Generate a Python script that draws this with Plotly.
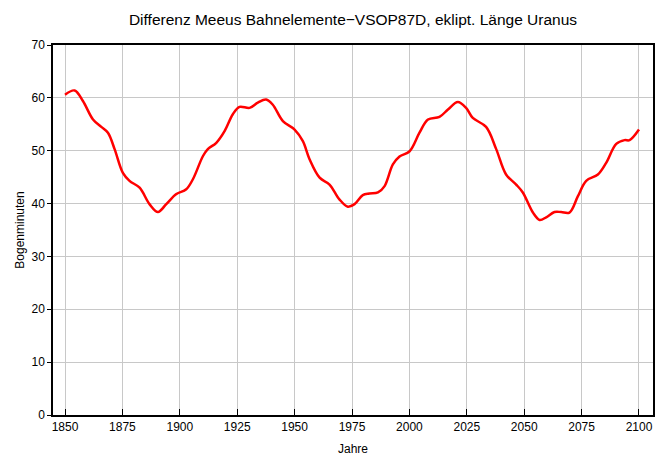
import plotly.graph_objects as go

years = [1850, 1854.2, 1857.8, 1862.2, 1865.8, 1868.7, 1871.6, 1875.2, 1878.1, 1882.5,
         1886.8, 1890.5, 1894.1, 1898.5, 1902.8, 1905.7, 1910.1, 1912.2, 1915.9, 1919.5,
         1923.1, 1926.0, 1930.4, 1934.0, 1937.6, 1940.5, 1944.9, 1950.0, 1953.6, 1956.5,
         1960.9, 1965.2, 1969.5, 1973.2, 1976.1, 1979.7, 1982.6, 1986.3, 1989.2, 1992.8,
         1995.7, 2000.1, 2004.4, 2008.1, 2013.1, 2016.8, 2021.1, 2024.7, 2027.6, 2033.4,
         2037.8, 2042.1, 2046.5, 2049.4, 2053.8, 2056.7, 2059.6, 2063.2, 2066.1, 2069.7,
         2073.4, 2077.0, 2082.1, 2085.7, 2090.1, 2093.7, 2095.9, 2100.0]
bogenminuten = [60.6, 61.4, 59.4, 55.9, 54.5, 53.4, 50.3, 45.8, 44.3, 43.0,
                39.9, 38.4, 39.9, 41.8, 42.7, 44.6, 49.0, 50.3, 51.5, 53.7,
                56.9, 58.3, 58.1, 59.1, 59.7, 58.7, 55.6, 54.0, 51.8, 48.4,
                44.9, 43.6, 40.8, 39.4, 39.9, 41.6, 41.9, 42.1, 43.3, 47.4,
                48.9, 49.9, 53.4, 55.9, 56.4, 57.8, 59.2, 58.1, 56.2, 54.5,
                50.3, 45.5, 43.6, 42.1, 38.3, 36.9, 37.4, 38.4, 38.4, 38.3,
                41.4, 44.3, 45.5, 47.7, 51.3, 52.0, 52.0, 54.0]

x_ticks = [1850, 1875, 1900, 1925, 1950, 1975, 2000, 2025, 2050, 2075, 2100]
y_ticks = [0, 10, 20, 30, 40, 50, 60, 70]

fig = go.Figure()
fig.add_trace(go.Scatter(x=years, y=bogenminuten, mode="lines",
                         line=dict(color="#ff0000", width=2.5, shape="spline", smoothing=1.0),
                         hoverinfo="skip", showlegend=False))

font_family = "Liberation Sans, Arial, sans-serif"
fig.update_layout(
    width=667, height=470,
    margin=dict(l=53, r=14, t=45, b=55),
    paper_bgcolor="white", plot_bgcolor="white",
    font=dict(family=font_family, size=12, color="black"),
    title=dict(text="Differenz Meeus Bahnelemente\u2212VSOP87D, eklipt. Länge Uranus",
               x=353 / 667, xanchor="center",
               y=1 - 20 / 470, yanchor="middle",
               font=dict(family=font_family, size=15.5, color="black")),
    xaxis=dict(range=[1844.77, 2106.1], tickvals=x_ticks, ticktext=[str(v) for v in x_ticks],
               ticks="inside", ticklen=6, tickcolor="black", tickwidth=1,
               showgrid=True, gridcolor="#c8c8c8", gridwidth=1,
               showline=True, linecolor="black", linewidth=1.5, mirror=True,
               zeroline=False,
               title=dict(text="Jahre", standoff=11, font=dict(size=12)),
               tickfont=dict(size=12)),
    yaxis=dict(range=[0, 70], tickvals=y_ticks,
               ticks="outside", ticklen=4, tickcolor="black", tickwidth=1,
               showgrid=True, gridcolor="#c8c8c8", gridwidth=1,
               showline=True, linecolor="black", linewidth=1.5, mirror=True,
               zeroline=False,
               title=dict(text="Bogenminuten", standoff=4, font=dict(size=12)),
               tickfont=dict(size=12)),
)

fig.write_html("out.html")
